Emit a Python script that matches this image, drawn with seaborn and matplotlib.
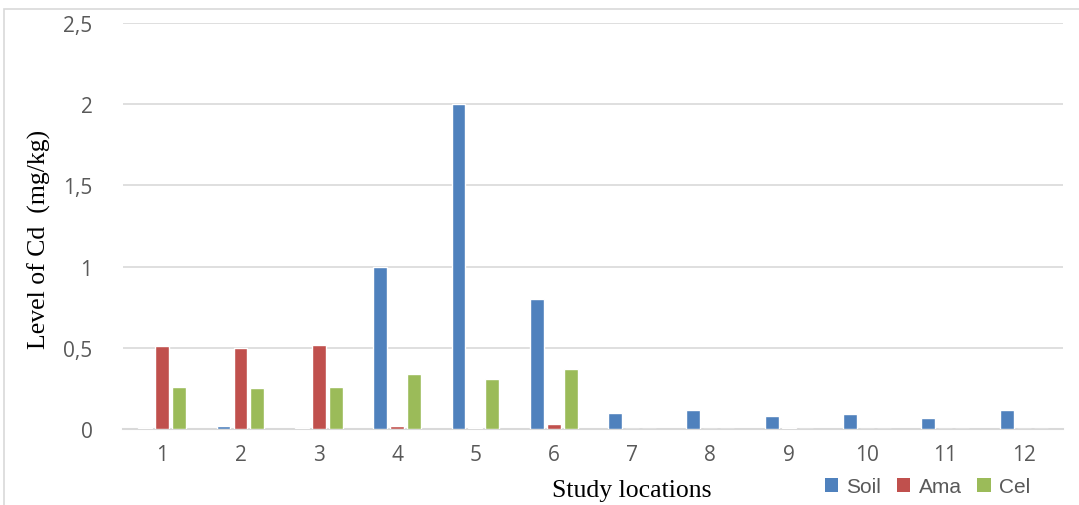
import matplotlib
matplotlib.use("Agg")
import matplotlib.pyplot as plt
import seaborn as sns
import pandas as pd
from matplotlib.patches import Rectangle, Patch
from matplotlib.ticker import FuncFormatter

# Cadmium levels (mg/kg) per study location
locations = ["1", "2", "3", "4", "5", "6", "7", "8", "9", "10", "11", "12"]
soil = [0.005, 0.02, 0.005, 1.0, 2.0, 0.8, 0.10, 0.12, 0.08, 0.09, 0.07, 0.12]
ama = [0.51, 0.50, 0.52, 0.02, 0.005, 0.03, 0.0, 0.0, 0.005, 0.0, 0.0, 0.0]
cel = [0.26, 0.25, 0.26, 0.34, 0.31, 0.37, 0.0, 0.0, 0.0, 0.0, 0.0, 0.0]
series = ["Soil", "Ama", "Cel"]
colors = ["#4F81BD", "#C0504D", "#9BBB59"]

df = pd.DataFrame({"Location": locations, "Soil": soil, "Ama": ama, "Cel": cel})
long = df.melt(id_vars="Location", var_name="Sample", value_name="Cd")

sns.set_style("white")
plt.rcParams["font.family"] = ["Open Sans", "DejaVu Sans"]

fig = plt.figure(figsize=(10.79, 5.06), dpi=100)
ax = fig.add_axes([0.114, 0.150, 0.871, 0.8026])

sns.barplot(data=long, x="Location", y="Cd", hue="Sample", hue_order=series,
            palette=colors, width=0.65, gap=0.18, saturation=1, errorbar=None,
            legend=False, ax=ax, zorder=3)

ax.set_xlim(-0.5, len(locations) - 0.5)
ax.set_ylim(0, 2.5)
ax.set_yticks([0, 0.5, 1, 1.5, 2, 2.5])
ax.yaxis.set_major_formatter(FuncFormatter(lambda v, p: f"{v:g}".replace(".", ",")))
ax.grid(axis="y", color="#D9D9D9", linewidth=1.2, zorder=0)
ax.set_axisbelow(True)
for s in ["left", "right", "top"]:
    ax.spines[s].set_visible(False)
ax.spines["bottom"].set_color("#D9D9D9")
ax.spines["bottom"].set_linewidth(1.5)
ax.tick_params(axis="both", length=0, labelsize=15, labelcolor="#595959")
ax.tick_params(axis="y", pad=22)
ax.tick_params(axis="x", pad=11)

serif = ["Liberation Serif", "DejaVu Serif"]
ax.set_xlabel("Study locations", family=serif, fontsize=18.5, color="black")
ax.xaxis.set_label_coords(0.541, -0.124)
ax.set_ylabel("Level of Cd  (mg/kg)", family=serif, fontsize=18.5, color="black")
ax.yaxis.set_label_coords(-0.077, 0.47)

handles = [Patch(facecolor=c, edgecolor="none") for c in colors]
leg = fig.legend(handles, series, loc="center", bbox_to_anchor=(0.8596, 0.036),
                 ncol=3, frameon=False, handlelength=0.65, handleheight=0.65,
                 handletextpad=0.4, columnspacing=0.75,
                 prop={"family": ["Liberation Sans", "DejaVu Sans"], "size": 15})
for t in leg.get_texts():
    t.set_color("#595959")

# thin frame around the chart area
fig.add_artist(Rectangle((3.5 / 1079, -0.1), 1.2, 1.1 - 9.5 / 506,
                         transform=fig.transFigure, fill=False,
                         edgecolor="#D9D9D9", linewidth=1.2))

fig.savefig("out.png", dpi=100)
